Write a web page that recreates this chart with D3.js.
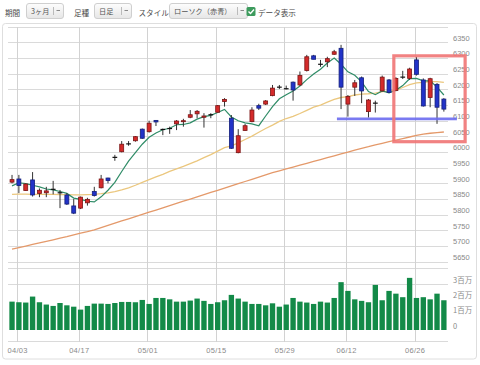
<!DOCTYPE html>
<html><head><meta charset="utf-8">
<script src="https://cdn.jsdelivr.net/npm/d3@7"></script>
<style>html,body{margin:0;padding:0;background:#fff;}svg{display:block;}</style>
</head><body>
<svg id="c" width="480" height="365"></svg>
<script>
// ---- data ----
const openP  = [5905,5915,5878,5912,5869,5871,5882,5871,5864,5829,5822,5839,5875,5887,5918,5984,6002,6027,6037,6074,6066,6102,6073,6076,6091,6099,6112,6123,6112,6120,6128,6162,6109,5999,6070,6098,6149,6154,6181,6208,6203,6224,6215,6261,6308,6281,6289,6313,6332,6154,6208,6238,6130,6157,6196,6231,6197,6240,6236,6295,6231,6175,6217,6170];
const highP  = [5928,5928,5901,5937,5885,5890,5909,5880,5870,5851,5859,5855,5890,5928,5919,5992,6036,6036,6052,6076,6101,6103,6076,6082,6103,6107,6135,6135,6125,6125,6151,6173,6119,6074,6091,6144,6155,6167,6215,6215,6213,6226,6258,6311,6311,6295,6305,6327,6343,6183,6231,6242,6170,6165,6245,6234,6240,6260,6270,6305,6236,6238,6221,6173];
const lowP   = [5901,5870,5877,5859,5857,5857,5866,5822,5832,5803,5819,5830,5859,5885,5901,5973,6000,6021,6034,6043,6063,6084,6055,6059,6071,6082,6109,6109,6079,6109,6127,6146,6011,5997,6069,6096,6135,6151,6179,6202,6201,6165,6212,6258,6297,6273,6272,6311,6138,6114,6180,6157,6111,6127,6194,6189,6195,6234,6231,6245,6146,6144,6091,6130];
const closeP = [5913,5894,5899,5864,5879,5877,5882,5871,5835,5806,5857,5850,5862,5915,5910,5984,6026,6027,6050,6045,6093,6097,6073,6076,6100,6101,6120,6131,6116,6120,6149,6169,6013,6053,6085,6135,6141,6164,6205,6208,6203,6199,6245,6305,6297,6281,6299,6321,6208,6178,6222,6196,6167,6157,6240,6191,6236,6240,6266,6249,6148,6235,6144,6138];
const volume = [1.85,1.81,1.79,2.18,1.81,1.66,1.57,1.76,1.61,1.52,1.33,1.57,1.72,1.72,1.70,1.76,1.83,1.83,1.81,1.96,1.70,2.09,2.09,2.00,1.85,1.85,1.92,2.05,1.90,1.70,1.81,1.94,2.29,2.05,1.85,1.70,1.70,1.61,1.74,1.52,1.66,2.09,1.85,1.79,1.70,1.85,1.79,2.09,3.12,2.55,2.00,1.90,1.81,2.94,1.94,2.55,2.37,2.14,3.40,2.09,2.14,2.00,2.37,1.94]; // 百万株
const ma5  = [5893,5903,5900,5895,5890,5883,5880,5875,5869,5854,5850,5844,5842,5858,5879,5904,5939,5972,5999,6026,6048,6062,6072,6077,6088,6089,6094,6106,6114,6118,6127,6137,6113,6101,6094,6091,6085,6116,6146,6171,6184,6196,6212,6232,6250,6265,6285,6301,6281,6257,6246,6225,6194,6184,6196,6190,6198,6213,6235,6236,6228,6228,6208,6183];
const ma25 = [5866,5867,5867,5866,5866,5866,5866,5865,5865,5864,5864,5865,5866,5868,5871,5875,5880,5887,5895,5904,5913,5922,5930,5939,5947,5955,5964,5973,5983,5993,6004,6015,6021,6030,6041,6052,6064,6076,6087,6099,6108,6115,6124,6134,6144,6151,6160,6169,6175,6178,6183,6186,6187,6189,6194,6195,6198,6207,6216,6222,6223,6226,6226,6223];
const ma75 = [5691,5696,5701,5706,5711,5716,5721,5726,5731,5737,5742,5747,5753,5760,5767,5774,5781,5788,5795,5802,5809,5816,5823,5830,5837,5844,5851,5858,5865,5872,5879,5886,5893,5900,5907,5914,5921,5928,5935,5941,5947,5953,5959,5965,5971,5977,5983,5989,5995,6001,6007,6013,6018,6024,6029,6034,6039,6044,6049,6054,6058,6061,6063,6065];
const dateTickLabels = ["04/03","04/17","05/01","05/15","05/29","06/12","06/26"];
const dateTickBars   = [1,10,20,30,40,49,59];
const priceTicks = [5650,5700,5750,5800,5850,5900,5950,6000,6050,6100,6150,6200,6250,6300,6350];
const volTicks = [0,1,2,3];
const volTickLabels = ["0","1百万","2百万","3百万"];
const supportLine = {from:47.4, to:64.9, value:6107};
const highlightBox = {from:55.7, to:66.1, top:6308, bottom:6034};

// ---- drawing ----
const svg = d3.select("#c");
const N = closeP.length;
const x = d3.scaleBand().domain(d3.range(N)).range([8.6, 447.3]).paddingInner(0.22).paddingOuter(0.11);
const cx = i => x(i) + x.bandwidth()/2;
const xl = d3.scaleLinear().domain([0, N-1]).range([cx(0), cx(N-1)]);
const y = d3.scaleLinear().domain([5630, 6400]).range([268.3, 27]);
const yv = d3.scaleLinear().domain([0, 3]).range([330, 284]);
const gridL = 8, gridR = 448;
const jp = "'Noto Sans CJK JP','Noto Sans',sans-serif";
const num = "'Liberation Sans',Arial,sans-serif";

// header
const defs = svg.append("defs");
const g = defs.append("linearGradient").attr("id","btn").attr("x1",0).attr("y1",0).attr("x2",0).attr("y2",1);
g.append("stop").attr("offset","0").attr("stop-color","#fdfdfd");
g.append("stop").attr("offset","1").attr("stop-color","#e6e6e6");
const hdr = svg.append("g");
const label = (t, xx) => hdr.append("text").attr("x",xx).attr("y",15.5).attr("font-family",jp).attr("font-size",7.6).attr("fill","#4a4a4a").text(t);
const dropdown = (xx, w, t) => {
  hdr.append("rect").attr("x",xx+0.5).attr("y",3.5).attr("width",w).attr("height",15).attr("rx",2.5)
    .attr("fill","url(#btn)").attr("stroke","#cfcfcf");
  hdr.append("text").attr("x",xx+5).attr("y",14.2).attr("font-family",jp).attr("font-size",7.2).attr("fill","#555").text(t);
  hdr.append("line").attr("x1",xx+w-9.5).attr("x2",xx+w-9.5).attr("y1",7).attr("y2",15).attr("stroke","#bbb");
  hdr.append("path").attr("d",`M${xx+w-6.5},10.5h3.5`).attr("stroke","#888").attr("stroke-width",1);
};
label("期間", 5);
dropdown(26, 37, "3ヶ月");
label("足種", 74);
dropdown(94, 37, "日足");
label("スタイル", 138.5);
dropdown(169, 78, "ローソク（赤青）");
hdr.append("rect").attr("x",246.5).attr("y",7).attr("width",9).attr("height",9).attr("rx",1.5).attr("fill","#3d9b5d");
hdr.append("path").attr("d","M248.5,11.5l2,2l3.5,-4").attr("fill","none").attr("stroke","#fff").attr("stroke-width",1.4);
label("データ表示", 258);

// panel border
svg.append("rect").attr("x",2.5).attr("y",23.5).attr("width",474).attr("height",335.5).attr("rx",3)
  .attr("fill","none").attr("stroke","#dedede");

// grid
const grid = svg.append("g").attr("stroke","#dadada").attr("stroke-width",1).attr("shape-rendering","crispEdges");
grid.selectAll(".hp").data(priceTicks.concat([6400, 5630])).join("line")
  .attr("x1",gridL).attr("x2",gridR).attr("y1",d=>y(d)).attr("y2",d=>y(d));
grid.selectAll(".hv").data([3]).join("line")
  .attr("x1",gridL).attr("x2",gridR).attr("y1",d=>yv(d)).attr("y2",d=>yv(d));
grid.append("line").attr("x1",gridL).attr("x2",gridR).attr("y1",341.7).attr("y2",341.7);
grid.selectAll(".v").data(dateTickBars).join("line")
  .attr("x1",d=>cx(d)-1.3).attr("x2",d=>cx(d)-1.3).attr("y1",27).attr("y2",341.7).attr("stroke","#d2d2d2");

// axis labels
svg.append("g").selectAll("text").data(priceTicks).join("text")
  .attr("x",453).attr("y",d=>y(d)-2).attr("font-family",num).attr("font-size",7.5).attr("fill","#8a8a8a").text(d=>d);
svg.append("g").selectAll("text").data(volTicks).join("text")
  .attr("x",453).attr("y",d=>yv(d)-1.5).attr("font-family",jp).attr("font-size",7.5).attr("fill","#8a8a8a")
  .text((d,i)=>volTickLabels[i]);
svg.append("g").selectAll("text").data(dateTickBars).join("text")
  .attr("x",d=>cx(d)-1.3).attr("y",352.5).attr("text-anchor","middle").attr("font-family",num).attr("font-size",7.5)
  .attr("fill","#8a8a8a").attr("letter-spacing",0.3).text((d,i)=>dateTickLabels[i]);

// volume
svg.append("g").selectAll("rect").data(volume).join("rect")
  .attr("x",(d,i)=>x(i)).attr("width",x.bandwidth()).attr("y",d=>yv(d)).attr("height",d=>yv(0)-yv(d))
  .attr("fill","#138a48");

// MA lines
const ln = arr => d3.line().x((d,i)=>cx(i)).y(d=>y(d)).curve(d3.curveLinear)(arr);
svg.append("path").attr("d",ln(ma75)).attr("fill","none").attr("stroke","#e4996a").attr("stroke-width",1.3);
svg.append("path").attr("d",ln(ma25)).attr("fill","none").attr("stroke","#ebc77e").attr("stroke-width",1.3);
svg.append("path").attr("d",ln(ma5)).attr("fill","none").attr("stroke","#2f8c67").attr("stroke-width",1.2);

// candles
const cg = svg.append("g");
const bw = x.bandwidth() - 0.6;
d3.range(N).forEach(i => {
  const o = openP[i], c = closeP[i], h = highP[i], l = lowP[i];
  const xc = cx(i);
  cg.append("line").attr("x1",xc).attr("x2",xc).attr("y1",y(h)).attr("y2",y(l)).attr("stroke","#333").attr("stroke-width",1);
  if (o === c) {
    cg.append("line").attr("x1",xc-bw/2).attr("x2",xc+bw/2).attr("y1",y(o)).attr("y2",y(o)).attr("stroke","#111").attr("stroke-width",1.2);
  } else {
    const up = c > o;
    const top = y(Math.max(o,c)), bot = y(Math.min(o,c));
    cg.append("rect").attr("x",xc-bw/2+0.4).attr("width",bw-0.8).attr("y",top).attr("height",Math.max(bot-top,1))
      .attr("fill", up ? "#d42a2a" : "#2233c8").attr("stroke", up ? "#7a1515" : "#15207a").attr("stroke-width",0.8);
  }
});

// annotations
svg.append("line").attr("x1",xl(supportLine.from)).attr("x2",xl(supportLine.to))
  .attr("y1",y(supportLine.value)).attr("y2",y(supportLine.value))
  .attr("stroke","#6b6bf0").attr("stroke-opacity",0.9).attr("stroke-width",2.8);
svg.append("rect").attr("x",xl(highlightBox.from)).attr("width",xl(highlightBox.to)-xl(highlightBox.from))
  .attr("y",y(highlightBox.top)).attr("height",y(highlightBox.bottom)-y(highlightBox.top))
  .attr("fill","none").attr("stroke","#f07474").attr("stroke-opacity",0.9).attr("stroke-width",3.2);
</script>
</body></html>
